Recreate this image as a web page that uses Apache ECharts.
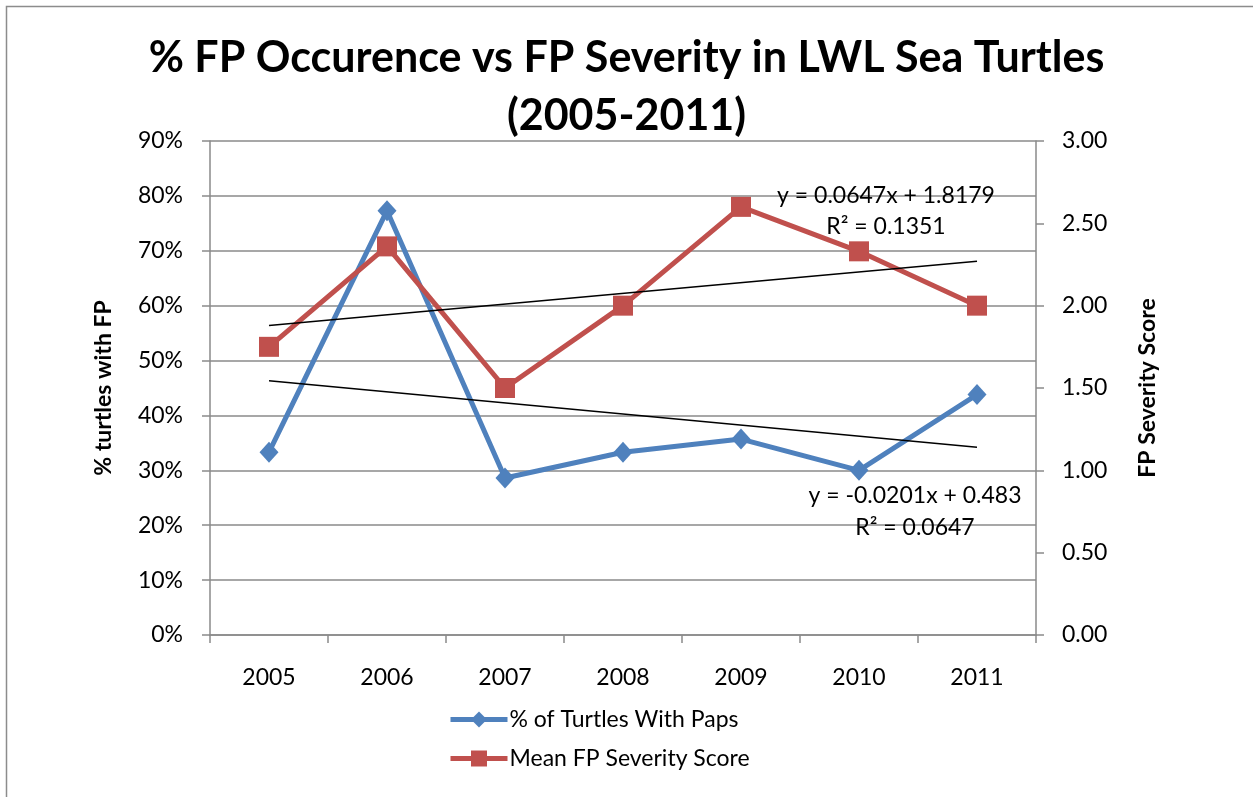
<!DOCTYPE html>
<html>
<head>
<meta charset="utf-8">
<title>% FP Occurence vs FP Severity</title>
<script src="https://cdn.jsdelivr.net/npm/echarts@6/dist/echarts.min.js"></script>
<style>
  html, body { margin: 0; padding: 0; background: #fff; }
  #chart { width: 1253px; height: 797px; }
</style>
</head>
<body>
<div id="chart"></div>
<script>
// data
const years = ["2005", "2006", "2007", "2008", "2009", "2010", "2011"];
const pctWithPaps = [33.3, 77.3, 28.6, 33.3, 35.7, 30.0, 43.8];       // % (left axis)
const severityScore = [1.75, 2.36, 1.50, 2.00, 2.60, 2.33, 2.00];     // right axis
// linear trendline end points (first and last year)
const pctTrend = [46.3, 34.2];
const severityTrend = [1.88, 2.27];
const pctTicks = [0, 10, 20, 30, 40, 50, 60, 70, 80, 90];
const severityTicks = [0, 0.5, 1, 1.5, 2, 2.5, 3];
const trendLabels = {
  severity: ["y = 0.0647x + 1.8179", "R² = 0.1351"],
  pct: ["y = -0.0201x + 0.483", "R² = 0.0647"]
};

const FONT = "Lato, 'Open Sans', 'Liberation Sans', sans-serif";
const axisGrey = "#8a8a8a";
const FS = 23;

// trend series only has the two end points, rest is empty
function trendData(ends) {
  const arr = years.map(() => "-");
  arr[0] = ends[0];
  arr[years.length - 1] = ends[1];
  return arr;
}

const chart = echarts.init(document.getElementById("chart"));

const option = {
  animation: false,
  textStyle: { fontFamily: FONT },
  title: {
    text: "% FP Occurence vs FP Severity in LWL Sea Turtles\n(2005-2011)",
    left: "center",
    top: 24,
    textStyle: { fontFamily: FONT, fontSize: 43, fontWeight: "bold", color: "#000", lineHeight: 58 }
  },
  legend: {
    orient: "vertical",
    left: 443,
    top: 703,
    itemGap: 16,
    itemWidth: 57,
    itemHeight: 20,
    textStyle: { fontFamily: FONT, fontSize: FS, color: "#000", padding: [0, 0, 0, -3] },
    data: [
      { name: "% of Turtles With Paps", lineStyle: { width: 5 } },
      { name: "Mean FP Severity Score", lineStyle: { width: 5 } }
    ]
  },
  grid: { left: 210, right: 217, top: 141, bottom: 162 },
  xAxis: {
    type: "category",
    data: years,
    boundaryGap: true,
    axisLine: { lineStyle: { color: axisGrey, width: 1.5 } },
    axisTick: { show: true, length: 8, lineStyle: { color: axisGrey, width: 1.5 } },
    axisLabel: { fontFamily: FONT, fontSize: FS, color: "#000", margin: 31 }
  },
  yAxis: [
    {
      type: "value",
      min: 0,
      max: 90,
      interval: 10,
      name: "% turtles with FP",
      nameLocation: "middle",
      nameGap: 95,
      nameTextStyle: { fontFamily: FONT, fontSize: FS, fontWeight: "bold", color: "#000" },
      axisLine: { show: true, lineStyle: { color: axisGrey, width: 1.5 } },
      axisTick: { show: true, length: 8, lineStyle: { color: axisGrey, width: 1.5 } },
      splitLine: { show: true, lineStyle: { color: axisGrey, width: 1.5 } },
      axisLabel: {
        fontFamily: FONT, fontSize: FS, color: "#000", margin: 27,
        formatter: v => (pctTicks.includes(v) ? v + "%" : "")
      }
    },
    {
      type: "value",
      min: 0,
      max: 3,
      interval: 0.5,
      position: "right",
      name: "FP Severity Score",
      nameLocation: "middle",
      nameGap: 100,
      nameRotate: 90,
      nameTextStyle: { fontFamily: FONT, fontSize: FS, fontWeight: "bold", color: "#000" },
      axisLine: { show: true, lineStyle: { color: axisGrey, width: 1.5 } },
      axisTick: { show: true, length: 8, lineStyle: { color: axisGrey, width: 1.5 } },
      splitLine: { show: false },
      axisLabel: {
        fontFamily: FONT, fontSize: FS, color: "#000", margin: 26,
        formatter: v => (severityTicks.includes(v) ? v.toFixed(2) : "")
      }
    }
  ],
  series: [
    {
      name: "% of Turtles With Paps",
      type: "line",
      yAxisIndex: 0,
      data: pctWithPaps,
      symbol: "diamond",
      symbolSize: [19, 21],
      itemStyle: { color: "#4F81BD" },
      lineStyle: { color: "#4F81BD", width: 5 },
      z: 3
    },
    {
      name: "Mean FP Severity Score",
      type: "line",
      yAxisIndex: 1,
      data: severityScore,
      symbol: "rect",
      symbolSize: 20,
      itemStyle: { color: "#C0504D" },
      lineStyle: { color: "#C0504D", width: 5 },
      z: 3
    },
    {
      name: "pct trend",
      type: "line",
      yAxisIndex: 0,
      data: trendData(pctTrend),
      connectNulls: true,
      showSymbol: false,
      silent: true,
      lineStyle: { color: "#000", width: 1.5 },
      z: 4
    },
    {
      name: "severity trend",
      type: "line",
      yAxisIndex: 1,
      data: trendData(severityTrend),
      connectNulls: true,
      showSymbol: false,
      silent: true,
      lineStyle: { color: "#000", width: 1.5 },
      z: 4
    }
  ],
  graphic: [
    {
      type: "rect",
      shape: { x: 6.5, y: 6.5, width: 1260, height: 810 },
      style: { fill: "none", stroke: "#8c8c8c", lineWidth: 1.5 },
      silent: true
    },
    {
      type: "text",
      x: 886, y: 180, z: 10,
      style: { text: trendLabels.severity.join("\n"), fontFamily: FONT, fontSize: FS, fill: "#000", align: "center", lineHeight: 31 }
    },
    {
      type: "text",
      x: 915, y: 480, z: 10,
      style: { text: trendLabels.pct.join("\n"), fontFamily: FONT, fontSize: FS, fill: "#000", align: "center", lineHeight: 32 }
    }
  ]
};

chart.setOption(option);
</script>
</body>
</html>
